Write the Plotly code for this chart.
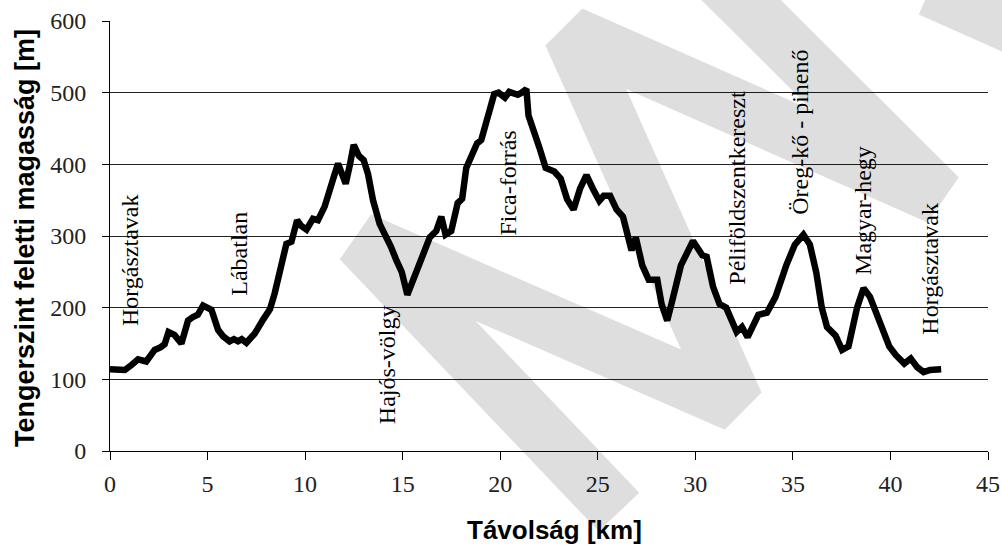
import plotly.graph_objects as go

# ---------------- data ----------------
dist_km = [0.0, 0.4, 0.76, 1.1, 1.44, 1.86, 2.29, 2.6, 2.8, 3.0, 3.3, 3.66, 4.0, 4.25, 4.5, 4.77,
           5.0, 5.2, 5.54, 5.8, 6.13, 6.35, 6.56, 6.75, 6.99, 7.42, 7.84, 8.2, 8.44, 8.8, 9.04, 9.3,
           9.59, 9.8, 10.07, 10.4, 10.66, 11.0, 11.26, 11.5, 11.69, 11.9, 12.08, 12.3, 12.49,
           12.75, 13.0, 13.22, 13.48, 13.82, 14.17, 14.4, 14.68, 14.95, 15.24, 15.62, 15.95,
           16.2, 16.39, 16.72, 16.98, 17.2, 17.49, 17.82, 18.05, 18.26, 18.55, 18.81, 19.03,
           19.36, 19.69, 19.91, 20.1, 20.24, 20.46, 20.7, 20.9, 21.1, 21.34, 21.45, 21.78, 22.0,
           22.33, 22.77, 23.1, 23.43, 23.76, 24.09, 24.42, 24.6, 24.75, 25.08, 25.3, 25.63, 25.96,
           26.29, 26.62, 26.73, 26.95, 27.28, 27.61, 28.05, 28.27, 28.56, 28.82, 29.26, 29.88,
           30.1, 30.36, 30.58, 30.91, 31.24, 31.58, 32.12, 32.39, 32.68, 33.0, 33.23, 33.67, 34.11,
           34.66, 35.1, 35.54, 35.87, 36.2, 36.48, 36.75, 37.19, 37.52, 37.85, 38.29, 38.62, 38.95,
           39.28, 39.61, 39.94, 40.27, 40.71, 41.04, 41.37, 41.7, 42.03, 42.6]
elev_m = [114, 114, 113, 120, 128, 125, 141, 145, 149, 166, 162, 150, 182, 187, 190, 203,
          201, 197, 169, 160, 153, 156, 153, 156, 151, 164, 183, 198, 220, 260, 289, 292,
          322, 314, 309, 324, 322, 341, 368, 385, 401, 388, 373, 400, 427,
          412, 406, 387, 350, 317, 299, 285, 266, 250, 218, 244, 268,
          285, 298, 307, 327, 302, 307, 346, 352, 395, 415, 429, 434,
          468, 498, 500, 497, 493, 501, 499, 497, 500, 505, 468, 444, 424,
          395, 390, 380, 351, 337, 366, 385, 372, 366, 349, 356, 356, 337,
          327, 293, 280, 298, 259, 239, 239, 205, 182, 210, 259, 293,
          284, 273, 271, 229, 205, 200, 166, 173, 159, 178, 190, 193, 215,
          259, 288, 302, 288, 249, 200, 173, 161, 141, 146, 200, 227, 215,
          190, 171, 146, 134, 122, 129, 117, 110, 113, 114]

label_text = ["Horgásztavak", "Lábatlan", "Hajós-völgy", "Fica-forrás",
              "Péliföldszentkereszt", "Öreg-kő - pihenő", "Magyar-hegy", "Horgásztavak"]
label_km = [1.06, 6.6, 14.19, 20.38, 32.12, 35.35, 38.58, 42.01]
label_m = [266, 275, 121, 374, 367, 445, 336, 254]

x_ticks = [0, 5, 10, 15, 20, 25, 30, 35, 40, 45]
y_ticks = [0, 100, 200, 300, 400, 500, 600]

# ---------------- layout geometry (pixels) ----------------
OFF = 0  # body margin is removed by the post script
W, H = 1002, 547
ML, MR, MT, MB = 110, 14, 21, 96
PW, PH = W - ML - MR, H - MT - MB


def to_paper(sx, sy):
    """screen pixel -> paper coords"""
    return (sx - OFF - ML) / PW, (H - MB - (sy - OFF)) / PH


# white boxes behind labels (screen pixel rectangles: x0, x1, top, bottom)
label_boxes = [(113, 150, 158, 338), (215, 262, 205, 300), (368, 402, 295, 430),
               (493, 523, 120, 243), (717, 753, 83, 292), (777, 820, 40, 222),
               (837, 881, 136, 283), (913, 952, 158, 347)]

shapes = []
for (x0, x1, y0, y1) in label_boxes:
    a0, b0 = to_paper(x0, y1)
    a1, b1 = to_paper(x1, y0)
    shapes.append(dict(type="rect", xref="paper", yref="paper", x0=a0, x1=a1, y0=b0, y1=b1,
                       fillcolor="white", line=dict(width=0), layer="between"))

# watermark zig-zag band (decorative)
wm_lines = [[(619, 512), (360, 240), (736, 404), (571, 34), (939, 197), (721, -20)],
            [(930, -11), (1070, 51)]]
half = 28.0
polys = []
for pts in wm_lines:
    norms = []
    for i in range(len(pts) - 1):
        (xa, ya), (xb, yb) = pts[i], pts[i + 1]
        dx, dy = xb - xa, yb - ya
        L = (dx * dx + dy * dy) ** 0.5
        nx, ny = -dy / L * half, dx / L * half
        norms.append((nx, ny))
        polys.append([(xa + nx, ya + ny), (xb + nx, yb + ny), (xb - nx, yb - ny), (xa - nx, ya - ny)])
    for i in range(1, len(pts) - 1):
        (px, py) = pts[i]
        n1, n2 = norms[i - 1], norms[i]
        polys.append([(px, py), (px + n1[0], py + n1[1]), (px + n2[0], py + n2[1])])
        polys.append([(px, py), (px - n1[0], py - n1[1]), (px - n2[0], py - n2[1])])

path = ""
for poly in polys:
    area = 0
    for i in range(len(poly)):
        x1_, y1_ = poly[i]
        x2_, y2_ = poly[(i + 1) % len(poly)]
        area += x1_ * y2_ - x2_ * y1_
    if area < 0:
        poly = poly[::-1]
    pp = [to_paper(x, y) for (x, y) in poly]
    path += "M" + " L".join(f"{a:.5f},{b:.5f}" for a, b in pp) + " Z "

shapes.append(dict(type="path", xref="paper", yref="paper", path=path,
                   fillcolor="rgba(0,0,0,0.13)", line=dict(width=0),
                   fillrule="nonzero", layer="above"))

# ---------------- figure ----------------
fig = go.Figure()
fig.add_trace(go.Scatter(x=dist_km, y=elev_m, mode="lines",
                         line=dict(color="black", width=6.5), hoverinfo="skip"))

serif = "Liberation Serif, Times New Roman, serif"
sans = "Liberation Sans, Arial, sans-serif"

annotations = []
for t, xk, ym in zip(label_text, label_km, label_m):
    annotations.append(dict(x=xk, y=ym, xref="x", yref="y", text=t, textangle=-90,
                            showarrow=False, xanchor="center", yanchor="middle",
                            font=dict(family=serif, size=24, color="black")))

tx, ty = to_paper(25, 238)
annotations.append(dict(x=tx, y=ty, xref="paper", yref="paper",
                        text="<b>Tengerszint feletti magasság [m]</b>", textangle=-90,
                        showarrow=False, xanchor="center", yanchor="middle",
                        font=dict(family=sans, size=27, color="black")))
tx, ty = to_paper(554, 530)
annotations.append(dict(x=tx, y=ty, xref="paper", yref="paper",
                        text="<b>Távolság [km]</b>", showarrow=False,
                        xanchor="center", yanchor="middle",
                        font=dict(family=sans, size=26, color="black")))

fig.update_layout(
    width=W, height=H,
    margin=dict(l=ML, r=MR, t=MT, b=MB),
    paper_bgcolor="white", plot_bgcolor="white",
    showlegend=False,
    hovermode=False,
    shapes=shapes,
    annotations=annotations,
    xaxis=dict(range=[0, 45], tickvals=x_ticks, ticktext=[str(v) for v in x_ticks],
               ticks="outside", ticklen=8, tickcolor="black", tickwidth=1,
               showline=True, linecolor="black", linewidth=1,
               showgrid=False, zeroline=False, automargin=False,
               ticklabeloverflow="allow",
               tickfont=dict(family=serif, size=24, color="#222"),
               ticklabelstandoff=3),
    yaxis=dict(range=[0, 600], tickvals=y_ticks, ticktext=[str(v) for v in y_ticks],
               ticks="outside", ticklen=7, tickcolor="black", tickwidth=1,
               showline=True, linecolor="black", linewidth=1,
               showgrid=True, gridcolor="#222", gridwidth=1, zeroline=False,
               automargin=False,
               tickfont=dict(family=serif, size=24, color="#222"),
               ticklabelstandoff=11),
)

fig.write_html("out.html",
               config={"displayModeBar": False, "staticPlot": True},
               post_script="document.body.style.margin='0';document.body.style.overflow='hidden';")
